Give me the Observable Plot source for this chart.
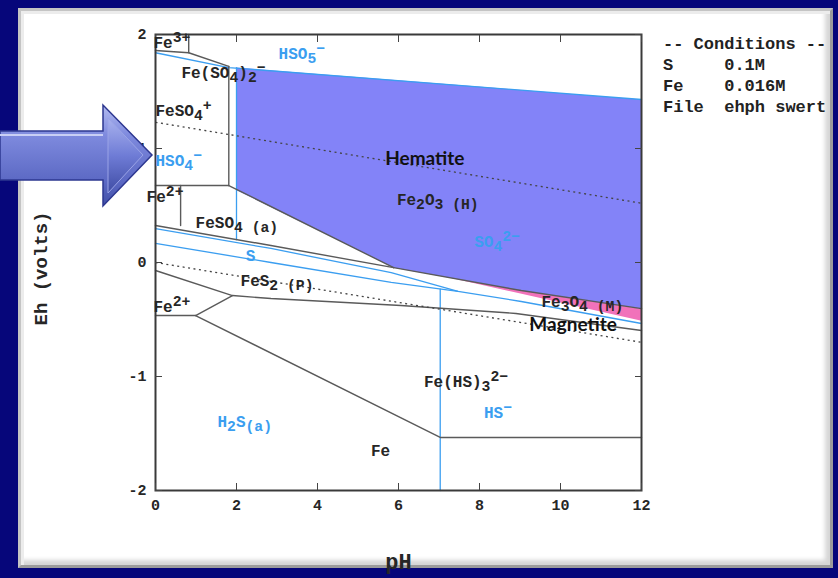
<!DOCTYPE html>
<html>
<head>
<meta charset="utf-8">
<script src="https://cdn.jsdelivr.net/npm/d3@7"></script>
<script src="https://cdn.jsdelivr.net/npm/@observablehq/plot@0.6"></script>
<style>
  html, body { margin: 0; padding: 0; }
  body { width: 838px; height: 578px; background: #06067a; position: relative; overflow: hidden; }
  #panel {
    position: absolute; left: 18px; top: 8px; width: 809px; height: 554px;
    background: #fff; border: 3px solid;
    border-color: #c4c4c4 #9c9c9c #9c9c9c #c4c4c4;
    box-shadow: inset 3px 3px 0 #ececec, inset -5px -5px 4px #d6d6d6;
  }
  #chart { position: absolute; left: 0; top: 0; }
  #conditions {
    position: absolute; left: 663px; top: 34px; margin: 0;
    font: bold 17px/21px "Liberation Mono", "DejaVu Sans Mono", monospace;
    color: #222; white-space: pre;
  }
  #arrow { position: absolute; left: 0; top: 100px; }
</style>
</head>
<body>
<div id="panel"></div>
<div id="chart"></div>
<pre id="conditions"></pre>
<svg id="arrow" width="160" height="115" viewBox="0 102 160 115">
  <defs>
    <linearGradient id="shaftFill" x1="0" y1="0" x2="0" y2="1">
      <stop offset="0" stop-color="#b3bbf0"/>
      <stop offset="0.3" stop-color="#7e8ade"/>
      <stop offset="0.75" stop-color="#5c69c4"/>
      <stop offset="1" stop-color="#4250a8"/>
    </linearGradient>
    <linearGradient id="headFill" x1="0" y1="0" x2="0" y2="1">
      <stop offset="0" stop-color="#a9b2ee"/>
      <stop offset="0.5" stop-color="#6f7cd6"/>
      <stop offset="1" stop-color="#3f4ca4"/>
    </linearGradient>
  </defs>
  <polygon points="0,133 103,133 103,107 152,157 103,208 103,182 0,182"
           fill="url(#shaftFill)" stroke="#2d3790" stroke-width="1.5" stroke-linejoin="miter"/>
  <polygon points="108,120 143,157 108,195" fill="url(#headFill)" stroke="#9aa3e6" stroke-width="1"/>
  <line x1="0" y1="137" x2="103" y2="137" stroke="#c9cff5" stroke-width="2"/>
</svg>
<script>
// Eh–pH (Pourbaix) diagram for the Fe–S–H2O system, S 0.1 M, Fe 0.016 M

const xTicks = [0, 2, 4, 6, 8, 10, 12];
const yTicks = [-2, -1, 0, 1, 2];

// shaded stability fields, [pH, Eh] vertices
const hematiteField = [[2.0, 1.71], [12, 1.43], [12, -0.405], [9.03, -0.246], [5.88, -0.045], [2.0, 0.634]];
const magnetiteField = [[7.3, -0.137], [9.03, -0.246], [12, -0.405], [12, -0.51], [8.9, -0.263]];

// iron species boundaries (grey)
const fe3Floor = [[0, 1.86], [0.82, 1.84], [1.81, 1.72]];
const fe3Side = [[0.82, 2], [0.82, 1.84]];
const sulfateComplexSplit = [[1.81, 1.72], [1.81, 0.675]];
const fe2Roof = [[0, 0.675], [1.81, 0.675]];
const fe2Side = [[0.62, 0.675], [0.62, 0.325]];
const hematiteLeftEdge = [[1.81, 0.675], [5.88, -0.045]];
const feso4Floor = [[0, 0.325], [2.85, 0.149], [5.88, -0.045]];
const hematiteFloor = [[5.88, -0.045], [9.03, -0.246], [12, -0.405]];
const pyriteFloor = [[0, -0.07], [1.9, -0.29], [2.85, -0.316], [6.06, -0.377], [8.9, -0.447], [12, -0.596]];
const lowFe2Floor = [[0, -0.465], [0.99, -0.465]];
const lowFe2Roof = [[0.99, -0.465], [1.9, -0.29]];
const metalRoof = [[0.99, -0.465], [7.03, -1.535], [12, -1.535]];

// sulfur species boundaries (blue)
const hso5Floor = [[0, 1.84], [1.81, 1.71], [12, 1.43]];
const bisulfateSplit = [[2.0, 1.71], [2.0, 0.2]];
const sulfurRoof = [[0, 0.298], [2.85, 0.123], [5.82, -0.088], [7.47, -0.254], [9.03, -0.342], [12, -0.535]];
const sulfurFloor = [[0, 0.167], [2.85, 0], [5.82, -0.175], [7.47, -0.254]];
const sulfideSplit = [[7.03, -0.233], [7.03, -2]];

// water stability limits (dotted)
const oxygenLine = [[0, 1.23], [12, 0.52]];
const hydrogenLine = [[0, 0], [12, -0.70]];

// field labels: _{..} subscript, ^{..} superscript
const speciesText = [
  "Fe^{3+}", "Fe(SO_{4})_{2}^{−}", "HSO_{5}^{−}", "FeSO_{4}^{+}", "HSO_{4}^{−}",
  "Fe_{2}O_{3 (H)}", "SO_{4}^{2−}", "Fe^{2+}", "FeSO_{4 (a)}", "S",
  "FeS_{2 (P)}", "Fe^{2+}", "Fe_{3}O_{4 (M)}", "Fe(HS)_{3}^{2−}", "HS^{−}",
  "H_{2}S_{(a)}", "Fe"
];
const speciesPH = [-0.05, 0.64, 3.04, 0.0, 0.0, 5.96, 7.87, -0.22, 0.99, 2.23, 2.1, -0.05, 9.53, 6.63, 8.11, 1.53, 5.32];
const speciesEh = [1.93, 1.66, 1.83, 1.33, 0.89, 0.55, 0.18, 0.58, 0.35, 0.06, -0.16, -0.39, -0.345, -1.05, -1.32, -1.40, -1.65];
const speciesElement = ["Fe", "Fe", "S", "Fe", "S", "Fe", "S", "Fe", "Fe", "S", "Fe", "Fe", "Fe", "Fe", "S", "S", "Fe"];

const mineralNames = ["Hematite", "Magnetite"];
const mineralPH = [5.67, 9.23];
const mineralEh = [0.91, -0.545];

const conditionLines = ["-- Conditions --", "S     0.1M", "Fe    0.016M", "File  ehph swert"];

const mono = "Liberation Mono, DejaVu Sans Mono, monospace";
const ironInk = "#262626";
const sulfurInk = "#3b9ef0";
const boundaryGrey = "#5a5a5a";

const rows = (lines) => lines.flatMap((pts, id) => pts.map(([pH, Eh]) => ({pH, Eh, id})));
const labels = speciesText.map((text, i) => ({text, pH: speciesPH[i], Eh: speciesEh[i], element: speciesElement[i]}));
const minerals = mineralNames.map((text, i) => ({text, pH: mineralPH[i], Eh: mineralEh[i]}));

const chart = Plot.plot({
  width: 838,
  height: 578,
  marginLeft: 155,
  marginRight: 197,
  marginTop: 34,
  marginBottom: 88,
  x: {domain: [0, 12]},
  y: {domain: [-2, 2]},
  style: {background: "transparent", overflow: "visible"},
  marks: [
    Plot.line(rows([hematiteField]), {x: "pH", y: "Eh", z: "id", fill: "#8383f8", stroke: "none"}),
    Plot.line(rows([magnetiteField]), {x: "pH", y: "Eh", z: "id", fill: "#f172ba", stroke: "none"}),
    Plot.line(rows([hso5Floor, bisulfateSplit, sulfurRoof, sulfurFloor, sulfideSplit]),
      {x: "pH", y: "Eh", z: "id", stroke: sulfurInk, strokeWidth: 1.3}),
    Plot.line(rows([fe3Floor, fe3Side, sulfateComplexSplit, fe2Roof, fe2Side, hematiteLeftEdge,
                    feso4Floor, hematiteFloor, pyriteFloor, lowFe2Floor, lowFe2Roof, metalRoof]),
      {x: "pH", y: "Eh", z: "id", stroke: boundaryGrey, strokeWidth: 1.4}),
    Plot.line(rows([oxygenLine, hydrogenLine]),
      {x: "pH", y: "Eh", z: "id", stroke: "#444", strokeWidth: 1.3, strokeDasharray: "2,3.5", strokeLinecap: "butt"}),
    Plot.frame({stroke: "#3a3a3a", strokeWidth: 2}),
    // inward tick marks on all four sides
    Plot.axisX({anchor: "bottom", ticks: xTicks, tickSize: -7, tickFormat: () => "", label: null, stroke: "#444"}),
    Plot.axisX({anchor: "top", ticks: xTicks, tickSize: -7, tickFormat: () => "", label: null, stroke: "#444"}),
    Plot.axisY({anchor: "left", ticks: yTicks, tickSize: -7, tickFormat: () => "", label: null, stroke: "#444"}),
    Plot.axisY({anchor: "right", ticks: yTicks, tickSize: -7, tickFormat: () => "", label: null, stroke: "#444"}),
    // tick labels
    Plot.axisX({anchor: "bottom", ticks: xTicks, tickSize: 0, tickPadding: 9, label: null, tickFormat: (d) => String(d),
      fontSize: 15, fontWeight: "bold", fontFamily: mono, fill: ironInk}),
    Plot.axisY({anchor: "left", ticks: yTicks, tickSize: 0, tickPadding: 9, label: null, tickFormat: (d) => String(d),
      fontSize: 15, fontWeight: "bold", fontFamily: mono, fill: ironInk}),
    // axis titles
    Plot.text(["pH"], {frameAnchor: "bottom", dy: 71, text: (d) => d, textAnchor: "middle", lineAnchor: "middle",
      fontSize: 22, fontWeight: "bold", fontFamily: mono, fill: ironInk}),
    Plot.text(["Eh (volts)"], {frameAnchor: "left", dx: -115, dy: 6, rotate: -90, text: (d) => d,
      textAnchor: "middle", lineAnchor: "middle",
      fontSize: 19, fontWeight: "bold", fontFamily: mono, fill: ironInk}),
    // species labels
    Plot.text(labels, {x: "pH", y: "Eh", text: "text", textAnchor: "start",
      fill: (d) => d.element === "S" ? sulfurInk : ironInk,
      fontSize: 16, fontWeight: "bold", fontFamily: mono}),
    Plot.text(minerals, {x: "pH", y: "Eh", text: "text", textAnchor: "start",
      fill: "#111", fontSize: 19, fontWeight: "bold", fontFamily: "Lato, Open Sans, sans-serif"})
  ]
});

// turn the _{..} / ^{..} markup into shifted tspans
const svgNS = "http://www.w3.org/2000/svg";
chart.querySelectorAll("text").forEach((el) => {
  const src = el.textContent;
  if (!/[_^]\{/.test(src)) return;
  el.textContent = "";
  const re = /([_^])\{([^}]*)\}|([^_^]+)/g;
  let shift = 0, m;
  while ((m = re.exec(src))) {
    const span = document.createElementNS(svgNS, "tspan");
    const target = m[1] === "_" ? 4 : m[1] === "^" ? -6 : 0;
    span.setAttribute("dy", target - shift);
    shift = target;
    if (m[1]) span.setAttribute("font-size", "0.92em");
    span.textContent = m[1] ? m[2] : m[3];
    el.appendChild(span);
  }
});

document.getElementById("chart").appendChild(chart);
document.getElementById("conditions").textContent = conditionLines.join("\n");
</script>
</body>
</html>
